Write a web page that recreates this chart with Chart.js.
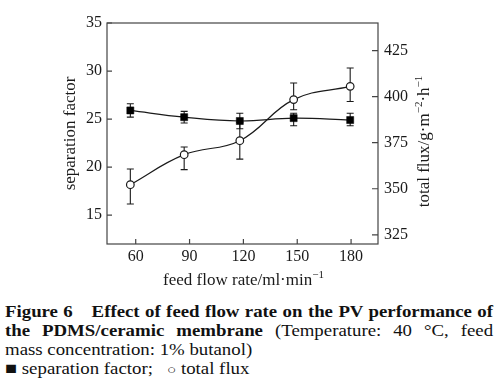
<!DOCTYPE html>
<html><head><meta charset="utf-8">
<script src="https://cdn.jsdelivr.net/npm/chart.js@4"></script>
<style>
html,body{margin:0;padding:0;background:#fff;}
#wrap{position:relative;width:500px;height:386px;overflow:hidden;background:#fff;}
#c{position:absolute;left:0;top:0;}
#cap{position:absolute;left:5px;top:302px;width:415px;font:16px/19px "Liberation Serif","Times New Roman",serif;color:#111;transform:scaleX(1.176);transform-origin:0 0;}
.j{text-align:justify;text-align-last:justify;white-space:nowrap;}
b{font-weight:bold;}
.sq{font-size:17px;line-height:19px;}
.ci{font-size:13px;line-height:19px;}
</style></head>
<body>
<div id="wrap">
<canvas id="c" width="500" height="295"></canvas>
<div id="cap">
<div class="j"><b>Figure 6&emsp;Effect of feed flow rate on the PV performance of</b></div>
<div class="j"><b>the PDMS/ceramic membrane</b> (Temperature: 40 °C, feed</div>
<div>mass concentration: 1% butanol)</div>
<div><span class="sq">■</span> separation factor;&nbsp;&nbsp; <span class="ci">○</span> total flux</div>
</div>
</div>
<script>
const flowRate = [57, 87, 118, 148, 179.5];
const sepFactor = [25.9, 25.2, 24.8, 25.1, 24.9];
const sepErrUp = [0.7, 0.6, 0.8, 0.5, 0.7];
const sepErrDown = [0.7, 0.6, 0.8, 0.8, 0.6];
const totalFlux = [352.2, 368.5, 376.1, 398.4, 405.6];
const fluxErrUp = [8.5, 4.2, 10, 9, 10];
const fluxErrDown = [10.5, 8.1, 10, 5.5, 8.2];
const xTicks = [60, 90, 120, 150, 180];
const sepTicks = [15, 20, 25, 30, 35];
const fluxTicks = [325, 350, 375, 400, 425];

const FONT = '"Liberation Serif", "Times New Roman", serif';
const INK = '#1a1a1a';

function richText(ctx, segs, x, y) {
  let w = 0;
  segs.forEach(s => { ctx.font = (s.sup ? '11px ' : '17px ') + FONT; s.w = ctx.measureText(s.t).width; w += s.w; });
  let cx = x - w / 2;
  ctx.textAlign = 'left';
  ctx.textBaseline = 'middle';
  segs.forEach(s => {
    ctx.font = (s.sup ? '11px ' : '17px ') + FONT;
    ctx.fillText(s.t, cx, s.sup ? y - 6 : y);
    cx += s.w;
  });
}

const decor = {
  id: 'decor',
  beforeDatasetsDraw(chart) {
    const ctx = chart.ctx, xs = chart.scales.x;
    ctx.save();
    ctx.strokeStyle = INK; ctx.lineWidth = 1.1;
    function bars(ys, vals, up, down) {
      vals.forEach((v, i) => {
        const px = xs.getPixelForValue(flowRate[i]);
        const t = ys.getPixelForValue(v + up[i]), b = ys.getPixelForValue(v - down[i]);
        ctx.beginPath();
        ctx.moveTo(px, t); ctx.lineTo(px, b);
        ctx.moveTo(px - 3.5, t); ctx.lineTo(px + 3.5, t);
        ctx.moveTo(px - 3.5, b); ctx.lineTo(px + 3.5, b);
        ctx.stroke();
      });
    }
    bars(chart.scales.y, sepFactor, sepErrUp, sepErrDown);
    bars(chart.scales.y1, totalFlux, fluxErrUp, fluxErrDown);
    ctx.restore();
  },
  afterDraw(chart) {
    const ctx = chart.ctx, a = chart.chartArea;
    const xs = chart.scales.x, yl = chart.scales.y, yr = chart.scales.y1;
    ctx.save();
    ctx.strokeStyle = '#444'; ctx.lineWidth = 1.2;
    ctx.strokeRect(a.left, a.top, a.right - a.left, a.bottom - a.top);
    ctx.beginPath();
    xTicks.forEach(v => { const p = xs.getPixelForValue(v); ctx.moveTo(p, a.bottom); ctx.lineTo(p, a.bottom - 5); });
    sepTicks.forEach(v => { const p = yl.getPixelForValue(v); ctx.moveTo(a.left, p); ctx.lineTo(a.left + 5, p); });
    fluxTicks.forEach(v => { const p = yr.getPixelForValue(v); ctx.moveTo(a.right, p); ctx.lineTo(a.right - 6, p); });
    ctx.stroke();
    ctx.fillStyle = INK;
    richText(ctx, [{t: 'feed flow rate/ml·min'}, {t: '−1', sup: true}], (a.left + a.right) / 2 + 1, 281);
    ctx.translate(425, 141.5);
    ctx.rotate(-Math.PI / 2);
    richText(ctx, [{t: 'total flux/g·m'}, {t: '−2', sup: true}, {t: '·h'}, {t: '−1', sup: true}], 0, 0);
    ctx.restore();
  }
};

const tickFont = {family: FONT, size: 16};

new Chart(document.getElementById('c'), {
  type: 'line',
  data: {
    datasets: [
      {
        label: 'separation factor',
        data: flowRate.map((x, i) => ({x, y: sepFactor[i]})),
        yAxisID: 'y',
        borderColor: INK, borderWidth: 1.2, tension: 0.4,
        pointStyle: 'rect', pointRadius: 5, pointBackgroundColor: '#000', pointBorderColor: '#000', pointBorderWidth: 0.5
      },
      {
        label: 'total flux',
        data: flowRate.map((x, i) => ({x, y: totalFlux[i]})),
        yAxisID: 'y1',
        borderColor: INK, borderWidth: 1.2, tension: 0.4,
        pointStyle: 'circle', pointRadius: 3.8, pointBackgroundColor: '#fff', pointBorderColor: INK, pointBorderWidth: 1.2
      }
    ]
  },
  options: {
    responsive: false,
    animation: false,
    devicePixelRatio: 1,
    layout: {padding: {top: 23, left: 0, right: 0, bottom: 0}},
    plugins: {legend: {display: false}, tooltip: {enabled: false}},
    scales: {
      x: {
        type: 'linear', min: 44, max: 195,
        afterBuildTicks: s => { s.ticks = xTicks.map(v => ({value: v})); },
        afterFit: s => { s.height = 51; },
        grid: {display: false, drawTicks: false}, border: {display: false},
        ticks: {font: tickFont, color: INK, padding: 3, maxRotation: 0}
      },
      y: {
        type: 'linear', position: 'left', min: 12, max: 35,
        afterBuildTicks: s => { s.ticks = sepTicks.map(v => ({value: v})); },
        afterFit: s => { s.width = 107; },
        grid: {display: false, drawTicks: false}, border: {display: false},
        ticks: {font: tickFont, color: INK, padding: 5},
        title: {display: true, text: 'separation factor', font: {family: FONT, size: 17}, color: INK, padding: {top: 60, bottom: 0}}
      },
      y1: {
        type: 'linear', position: 'right', min: 320, max: 440,
        afterBuildTicks: s => { s.ticks = fluxTicks.map(v => ({value: v})); },
        afterFit: s => { s.width = 122; },
        grid: {display: false, drawTicks: false}, border: {display: false},
        ticks: {font: tickFont, color: INK, padding: 6}
      }
    }
  },
  plugins: [decor]
});
</script>
</body></html>
